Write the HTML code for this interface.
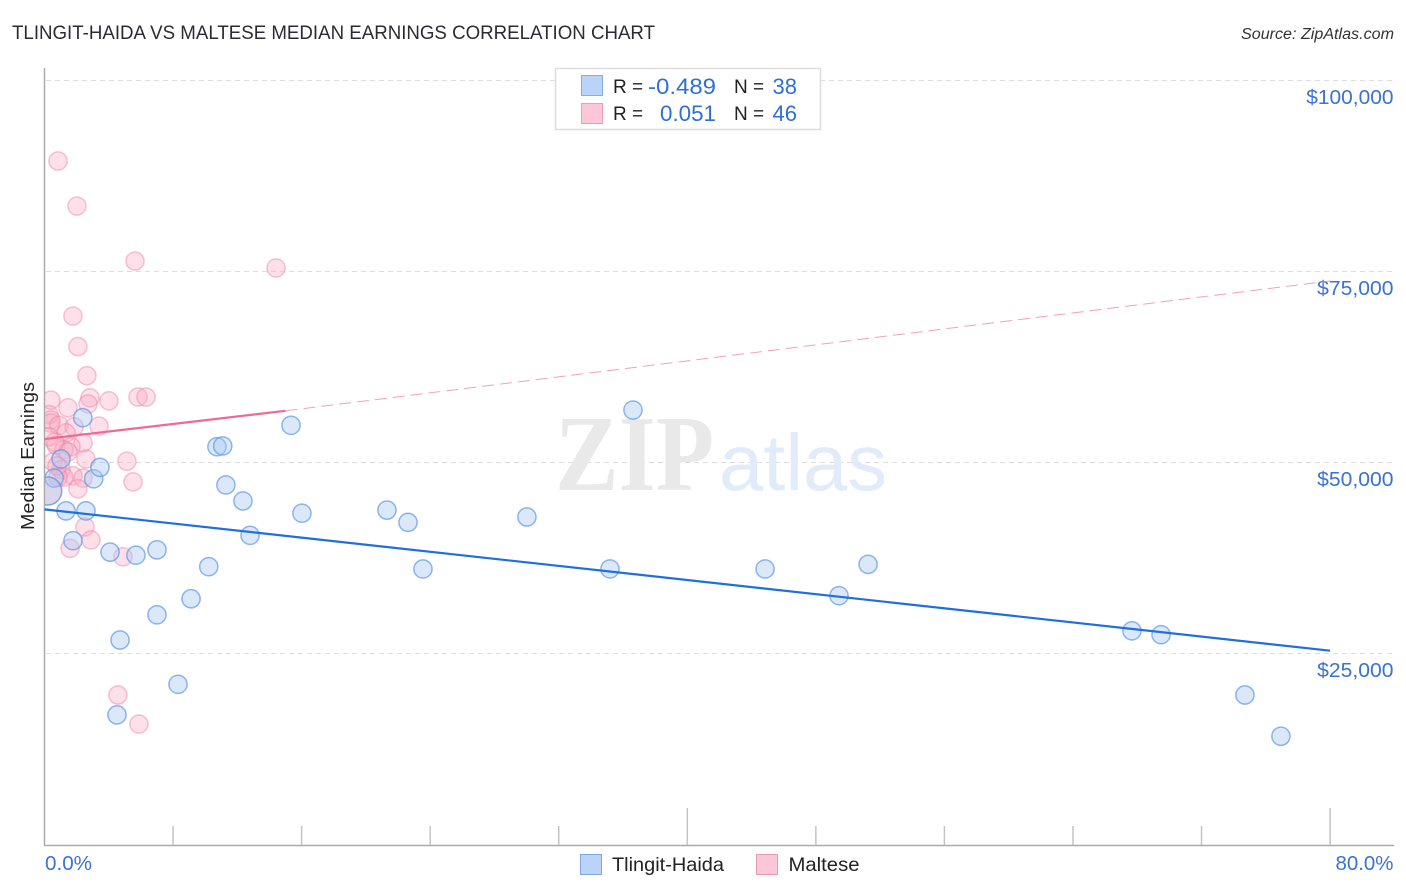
<!DOCTYPE html>
<html><head><meta charset="utf-8"><title>Tlingit-Haida vs Maltese Median Earnings Correlation Chart</title>
<style>html,body{margin:0;padding:0;background:#fff}svg{display:block}text{font-family:"Liberation Sans",sans-serif}</style></head>
<body>
<svg id="chart" xmlns="http://www.w3.org/2000/svg" width="1406" height="892" viewBox="0 0 1406 892">
<defs><clipPath id="plot-clip"><rect x="45" y="68" width="1349" height="777"/></clipPath></defs>
<text x="12" y="39" font-size="19.5" fill="#2b2b33" textLength="643" lengthAdjust="spacingAndGlyphs">TLINGIT-HAIDA VS MALTESE MEDIAN EARNINGS CORRELATION CHART</text>
<text x="1241" y="39" font-size="15.5" font-style="italic" fill="#333" textLength="153" lengthAdjust="spacingAndGlyphs">Source: ZipAtlas.com</text>
<g id="grid"></g>
<text style="font-family:'Liberation Serif',serif" font-weight="bold" x="555" y="490" font-size="108" fill="#e9e9e9" textLength="159" lengthAdjust="spacingAndGlyphs">ZIP</text>
<text x="719" y="490" font-size="80" fill="#e2ebf9" textLength="168" lengthAdjust="spacingAndGlyphs">atlas</text>
<g id="axes"></g>
<text transform="translate(34,456) rotate(-90)" font-size="18.5" fill="#222" text-anchor="middle" textLength="148" lengthAdjust="spacingAndGlyphs">Median Earnings</text>
<g id="points" clip-path="url(#plot-clip)"></g>
<g id="trends"></g>
<g>
<rect x="555.5" y="68.5" width="265" height="61" fill="#fff" stroke="#ddd" stroke-width="1.5"/>
<rect x="581.5" y="75.5" width="21" height="20" fill="#b9d4f8" stroke="#7fb0ea"/>
<rect x="581.5" y="103.5" width="21" height="20" fill="#fdc7d8" stroke="#f29ab6"/>
<text x="613" y="93" font-size="19" fill="#222">R =</text>
<text x="716" y="94" font-size="22" fill="#2f6fd6" text-anchor="end" textLength="68" lengthAdjust="spacingAndGlyphs">-0.489</text>
<text x="734" y="93" font-size="19" fill="#222">N =</text>
<text x="797" y="94" font-size="22" fill="#2f6fd6" text-anchor="end">38</text>
<text x="613" y="120" font-size="19" fill="#222">R =</text>
<text x="716" y="121" font-size="22" fill="#2f6fd6" text-anchor="end" textLength="56" lengthAdjust="spacingAndGlyphs">0.051</text>
<text x="734" y="120" font-size="19" fill="#222">N =</text>
<text x="797" y="121" font-size="22" fill="#2f6fd6" text-anchor="end">46</text>
</g>
<g>
<rect x="580.5" y="854.5" width="21" height="20" fill="#b9d4f8" stroke="#7fa8de"/>
<text x="612" y="871" font-size="19.5" fill="#222" textLength="112" lengthAdjust="spacingAndGlyphs">Tlingit-Haida</text>
<rect x="756.5" y="854.5" width="21" height="20" fill="#fdc7d8" stroke="#e89ab2"/>
<text x="788.5" y="871" font-size="19.5" fill="#222" textLength="71" lengthAdjust="spacingAndGlyphs">Maltese</text>
</g>
</svg>
<script>
const blueX = [0.6,1.34,1.77,2.38,2.58,3.06,3.45,4.08,4.7,4.51,5.69,7.0,7.0,8.31,9.12,10.22,10.73,11.09,11.29,12.35,12.79,15.34,16.02,21.31,22.62,23.55,30.02,35.19,36.62,44.84,49.44,51.25,67.67,69.48,74.7,76.94,1.03];
const blueY = [47.9,43.6,39.7,55.8,43.6,47.8,49.3,38.2,26.7,16.9,37.8,38.5,30.0,20.9,32.1,36.3,52.0,52.1,47.0,44.9,40.4,54.8,43.3,43.7,42.1,36.0,42.8,36.0,56.8,36.0,32.5,36.6,27.9,27.4,19.5,14.1,50.4];
const pinkX = [0.84,2.02,5.63,14.41,1.77,2.08,2.64,0.40,1.46,2.83,2.71,4.01,5.82,6.32,0.28,0.40,0.40,0.90,1.84,3.39,1.34,0.72,2.40,1.65,1.21,2.58,0.53,5.13,5.51,1.03,1.77,2.40,1.21,0.84,2.08,2.52,2.89,1.59,4.88,4.57,5.88,0.28,0.65,0.78,1.46];
const pinkY = [89.4,83.5,76.3,75.4,69.1,65.1,61.3,58.1,57.1,58.4,57.6,58.0,58.5,58.5,56.2,55.5,55.1,54.8,54.6,54.7,53.8,52.2,52.5,52.0,51.6,50.4,50.0,50.1,47.4,49.0,48.2,47.9,48.0,48.0,46.5,41.5,39.8,38.7,37.6,19.5,15.7,53.3,52.6,49.5,51.3];
const clusterX = [0.2];
const clusterBlueY = [46.2];
const clusterPinkY = [46.2];
const blueTrendX = [0,80];
const blueTrendY = [43.8,25.3];
const pinkSolidX = [0,15];
const pinkSolidY = [53.0,56.7];
const pinkDashX = [15,80];
const pinkDashY = [56.7,73.7];
const yTicks = [100,75,50,25];
const yTickLabels = ['$100,000','$75,000','$50,000','$25,000'];
const xTicks = [8,16,24,32,40,48,56,64,72,80];
const xEndLabels = ['0.0%','80.0%'];

const NS = 'http://www.w3.org/2000/svg';
const xs = v => 44.5 + v * 16.07;
const ys = v => 80 + (100 - v) * 7.64;
function make(tag, attrs, parent) {
  const el = document.createElementNS(NS, tag);
  for (const k in attrs) el.setAttribute(k, attrs[k]);
  document.getElementById(parent).appendChild(el);
  return el;
}
yTicks.forEach((t, i) => {
  const g = make('line', {x1:46, x2:1393, y1:ys(t) + 0.5, y2:ys(t) + 0.5, stroke:'#dddddd', 'stroke-width':1, 'stroke-dasharray':'5 4'}, 'grid');
  
  
  const l = make('text', {x:1393.5, y:ys(t) + 24, 'font-size':20, fill:'#3a72d6', 'text-anchor':'end', textLength:yTickLabels[i].length * 10.9, lengthAdjust:'spacingAndGlyphs'}, 'axes');
  l.textContent = yTickLabels[i];
  
  
});
const yAxis = make('line', {x1:44.5, x2:44.5, y1:68, y2:846, stroke:'#aaa', 'stroke-width':1.5}, 'axes');


const xAxis = make('line', {x1:44, x2:1394, y1:845.5, y2:845.5, stroke:'#aaa', 'stroke-width':1.5}, 'axes');


xTicks.forEach(t => {
  const tick = make('line', {x1:xs(t), x2:xs(t), y1:t % 40 === 0 ? 808 : 826, y2:845, stroke:'#c4c4c4', 'stroke-width':1.5}, 'axes');
  
  
});
const x0 = make('text', {x:45, y:870, 'font-size':20, fill:'#3a72d6', textLength:47, lengthAdjust:'spacingAndGlyphs'}, 'axes');
x0.textContent = xEndLabels[0];


const x1 = make('text', {x:1393.5, y:870, 'font-size':20, fill:'#3a72d6', 'text-anchor':'end', textLength:58, lengthAdjust:'spacingAndGlyphs'}, 'axes');
x1.textContent = xEndLabels[1];



const pinkStyle = {fill:'#f9a8c1', 'fill-opacity':0.36, stroke:'#ee7fa3', 'stroke-opacity':0.45, 'stroke-width':1.5};
const blueStyle = {fill:'#a9c8f4', 'fill-opacity':0.42, stroke:'#5a96e4', 'stroke-opacity':0.68, 'stroke-width':1.5};
pinkX.forEach((v, i) => {
  const c = make('circle', {cx:xs(v), cy:ys(pinkY[i]), r:9.1, ...pinkStyle}, 'points');
  
  
});
clusterX.forEach((v, i) => {
  const c = make('circle', {cx:xs(v), cy:ys(clusterPinkY[i]), r:14, ...pinkStyle}, 'points');
  
  
});
blueX.forEach((v, i) => {
  const c = make('circle', {cx:xs(v), cy:ys(blueY[i]), r:9.1, ...blueStyle}, 'points');
  
  
});
clusterX.forEach((v, i) => {
  const c = make('circle', {cx:xs(v), cy:ys(clusterBlueY[i]), r:14, ...blueStyle}, 'points');
  
  
});
const blueLine = make('line', {x1:xs(blueTrendX[0]), x2:xs(blueTrendX[1]), y1:ys(blueTrendY[0]), y2:ys(blueTrendY[1]), stroke:'#1f6fdc', 'stroke-width':2.2}, 'trends');


const pinkLine = make('line', {x1:xs(pinkSolidX[0]), x2:xs(pinkSolidX[1]), y1:ys(pinkSolidY[0]), y2:ys(pinkSolidY[1]), stroke:'#ee6a96', 'stroke-width':2.2}, 'trends');


const pinkDash = make('line', {x1:xs(pinkDashX[0]), x2:xs(pinkDashX[1]), y1:ys(pinkDashY[0]), y2:ys(pinkDashY[1]), stroke:'#ee8aa9', 'stroke-opacity':0.8, 'stroke-width':1, 'stroke-dasharray':'12 6'}, 'trends');


</script>
</body></html>
